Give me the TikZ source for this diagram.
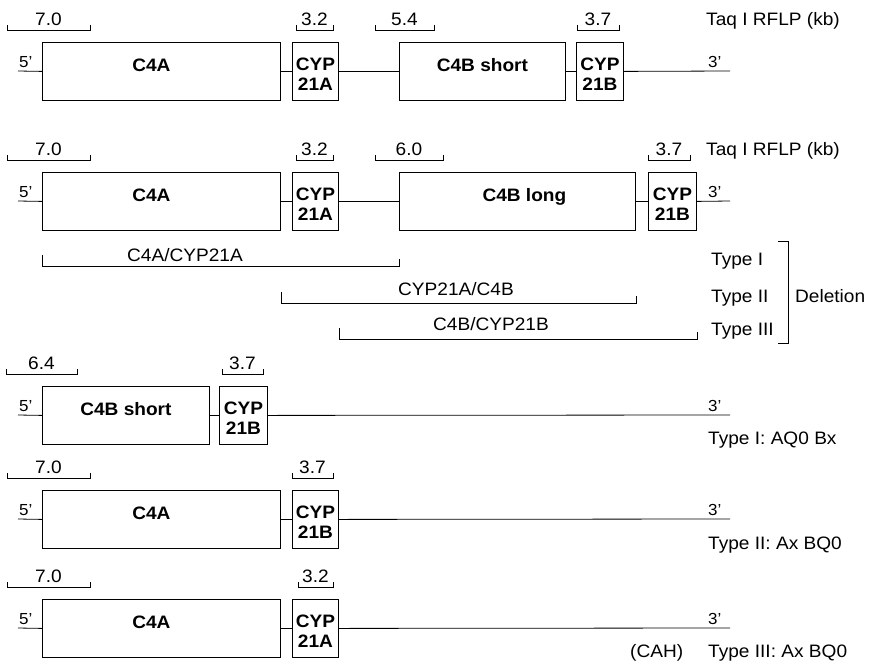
\documentclass[tikz,border=0pt]{standalone}
\usepackage{fontspec}
\setmainfont{Liberation Sans}[FakeStretch=1.06]

\tikzset{
    gene/.style={
        draw,
        line width=0.8pt,
        minimum height=58pt,
        inner sep=0pt,
        anchor=north west
    },
    genename/.style={
        font=\fontsize{18}{20}\selectfont\bfseries,
        align=center,
        anchor=north,
        inner sep=0pt
    },
    plain/.style={
        font=\fontsize{18}{20}\selectfont,
        inner sep=0pt,
        anchor=base west
    },
    endmark/.style={
        font=\fontsize{16}{18}\selectfont,
        inner sep=0pt,
        anchor=base west
    },
    dna/.style={line width=0.8pt},
    span/.style={line width=0.6pt}
}

\begin{document}
\begin{tikzpicture}[x=1pt, y=-1pt]
\useasboundingbox (0,0) rectangle (878,662);

% kb brackets above the genes
\foreach \xa/\xb/\yy/\kb in {
    7/90/30/7.0, 296/333/30/3.2, 375/434/30/5.4, 577/619/30/3.7,
    7/90/160/7.0, 296/333/160/3.2, 375/443/160/6.0, 648/690/160/3.7,
    6/77/374/6.4, 222/263/374/3.7,
    7/90/478/7.0, 292/333/478/3.7,
    7/90/587/7.0, 298/333/587/3.2}
{
    \draw[span] (\xa,\yy-5) -- (\xa,\yy) -- (\xb,\yy) -- (\xb,\yy-5);
    \node[plain, anchor=base] (kb-\xa-\yy) at ({(\xa+\xb)/2},\yy-5) {\kb};
}

% normal haplotype, C4B short
\node[gene, minimum width=238pt] (c4a1) at (42,42) {};
\node[gene, minimum width=46pt] (cypa1) at (292,42) {};
\node[gene, minimum width=166pt] (c4b1) at (399,42) {};
\node[gene, minimum width=47pt] (cypb1) at (576,42) {};
\node[genename] (c4a1t) at ([xshift=-10pt,yshift=-17pt]c4a1.north) {C4A};
\node[genename] (cypa1t) at ([yshift=-16pt]cypa1.north) {CYP\\21A};
\node[genename] (c4b1t) at ([yshift=-16pt]c4b1.north) {C4B short};
\node[genename] (cypb1t) at ([yshift=-16pt]cypb1.north) {CYP\\21B};
\coordinate (l1) at (18,71);
\coordinate (r1) at (730,71);
\draw[dna] (l1) -- (c4a1.west) (c4a1.east) -- (cypa1.west)
    (cypa1.east) -- (c4b1.west) (c4b1.east) -- (cypb1.west)
    (cypb1.east) -- (r1);
\node[endmark] (l1t) at (19,67) {5'};
\node[endmark] (r1t) at (708,67) {3'};
\node[plain] (taq1) at (706,25) {Taq I RFLP (kb)};

% normal haplotype, C4B long
\node[gene, minimum width=238pt] (c4a2) at (42,172) {};
\node[gene, minimum width=46pt] (cypa2) at (292,172) {};
\node[gene, minimum width=236pt] (c4b2) at (399,172) {};
\node[gene, minimum width=48pt] (cypb2) at (648,172) {};
\node[genename] (c4a2t) at ([xshift=-10pt,yshift=-17pt]c4a2.north) {C4A};
\node[genename] (cypa2t) at ([yshift=-16pt]cypa2.north) {CYP\\21A};
\node[genename] (c4b2t) at ([xshift=7pt,yshift=-16pt]c4b2.north) {C4B long};
\node[genename] (cypb2t) at ([yshift=-16pt]cypb2.north) {CYP\\21B};
\coordinate (l2) at (18,201);
\coordinate (r2) at (730,201);
\draw[dna] (l2) -- (c4a2.west) (c4a2.east) -- (cypa2.west)
    (cypa2.east) -- (c4b2.west) (c4b2.east) -- (cypb2.west)
    (cypb2.east) -- (r2);
\node[endmark] (l2t) at (19,197) {5'};
\node[endmark] (r2t) at (708,197) {3'};
\node[plain] (taq2) at (706,155) {Taq I RFLP (kb)};

% deleted segments
\coordinate (d1) at (0,266);
\coordinate (d2) at (0,303);
\coordinate (d3) at (0,339);
\draw[span] (c4a2.west |- d1) ++(0,-11) -- (c4a2.west |- d1)
    -- (c4b2.west |- d1) -- ++(0,-7);
\draw[span] (c4a2.east |- d2) ++(0,-11) -- (c4a2.east |- d2)
    -- (c4b2.east |- d2) -- ++(0,-7);
\draw[span] (cypa2.east |- d3) ++(0,-11) -- (cypa2.east |- d3)
    -- (cypb2.east |- d3) -- ++(0,-7);
\node[plain, anchor=base] (del1t) at (185,261) {C4A/CYP21A};
\node[plain, anchor=base] (del2t) at (456,295) {CYP21A/C4B};
\node[plain, anchor=base] (del3t) at (491,330) {C4B/CYP21B};
\node[plain] (type1) at (711,265) {Type I};
\node[plain] (type2) at (711,302) {Type II};
\node[plain] (type3) at (711,335) {Type III};
\draw[span] (778,241) -- (788,241) -- (788,343) -- (778,343);
\node[plain] (deletion) at (795,302) {Deletion};

% type I deletion
\node[gene, minimum width=167pt] (c4b3) at (42,386) {};
\node[gene, minimum width=48pt] (cypb3) at (219,386) {};
\node[genename] (c4b3t) at ([yshift=-16pt]c4b3.north) {C4B short};
\node[genename] (cypb3t) at ([yshift=-16pt]cypb3.north) {CYP\\21B};
\coordinate (l3) at (18,415);
\coordinate (r3) at (730,415);
\draw[dna] (l3) -- (c4b3.west) (c4b3.east) -- (cypb3.west)
    (cypb3.east) -- (r3);
\node[endmark] (l3t) at (19,411) {5'};
\node[endmark] (r3t) at (708,411) {3'};
\node[plain] (res1) at (708,444) {Type I: AQ0 Bx};

% type II deletion
\node[gene, minimum width=238pt] (c4a4) at (42,490) {};
\node[gene, minimum width=46pt] (cypb4) at (292,490) {};
\node[genename] (c4a4t) at ([xshift=-10pt,yshift=-17pt]c4a4.north) {C4A};
\node[genename] (cypb4t) at ([yshift=-16pt]cypb4.north) {CYP\\21B};
\coordinate (l4) at (18,519);
\coordinate (r4) at (730,519);
\draw[dna] (l4) -- (c4a4.west) (c4a4.east) -- (cypb4.west)
    (cypb4.east) -- (r4);
\node[endmark] (l4t) at (19,515) {5'};
\node[endmark] (r4t) at (708,515) {3'};
\node[plain] (res2) at (708,549) {Type II: Ax BQ0};

% type III deletion
\node[gene, minimum width=238pt] (c4a5) at (42,599) {};
\node[gene, minimum width=46pt] (cypa5) at (292,599) {};
\node[genename] (c4a5t) at ([xshift=-10pt,yshift=-17pt]c4a5.north) {C4A};
\node[genename] (cypa5t) at ([yshift=-16pt]cypa5.north) {CYP\\21A};
\coordinate (l5) at (18,628);
\coordinate (r5) at (730,628);
\draw[dna] (l5) -- (c4a5.west) (c4a5.east) -- (cypa5.west)
    (cypa5.east) -- (r5);
\node[endmark] (l5t) at (19,624) {5'};
\node[endmark] (r5t) at (708,624) {3'};
\node[plain] (cah) at (630,657) {(CAH)};
\node[plain] (res3) at (708,657) {Type III: Ax BQ0};
\end{tikzpicture}
\end{document}
